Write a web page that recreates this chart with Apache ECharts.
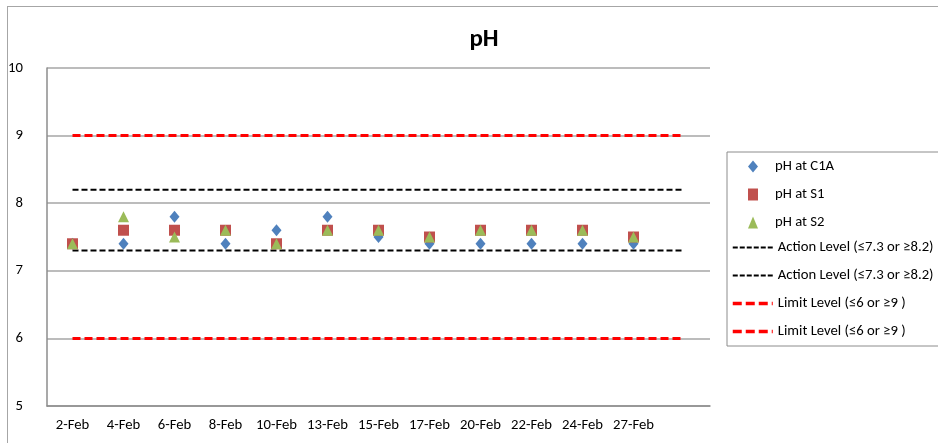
<!DOCTYPE html>
<html>
<head>
<meta charset="utf-8">
<script src="https://cdn.jsdelivr.net/npm/echarts@6/dist/echarts.min.js"></script>
<style>
  html, body { margin: 0; padding: 0; background: #fff; }
  #frame { position: absolute; left: 7px; top: 6px; width: 960px; height: 460px; border: 1px solid #a6a6a6; }
  #main { position: absolute; left: 0; top: 0; width: 938px; height: 443px; }
</style>
</head>
<body>
<div id="frame"></div>
<div id="main"></div>
<script>
const FONT = "Carlito, 'Liberation Sans Narrow', 'Noto Sans', sans-serif";

// last slot is an empty category (lines run across it)
const dates = ["2-Feb", "4-Feb", "6-Feb", "8-Feb", "10-Feb", "13-Feb", "15-Feb",
               "17-Feb", "20-Feb", "22-Feb", "24-Feb", "27-Feb", ""];

const phC1A = [7.4, 7.4, 7.8, 7.4, 7.6, 7.8, 7.5, 7.4, 7.4, 7.4, 7.4, 7.4];
const phS1  = [7.4, 7.6, 7.6, 7.6, 7.4, 7.6, 7.6, 7.5, 7.6, 7.6, 7.6, 7.5];
const phS2  = [7.4, 7.8, 7.5, 7.6, 7.4, 7.6, 7.6, 7.5, 7.6, 7.6, 7.6, 7.5];

const actionHigh = 8.2;
const actionLow = 7.3;
const limitHigh = 9;
const limitLow = 6;

const ACTION_NAME = "Action Level (\u22647.3 or \u22658.2)";
const LIMIT_NAME = "Limit Level (\u22646 or \u22659 )";
// second copy of each level gets its own legend row
const ACTION_NAME_2 = ACTION_NAME + "\u200b";
const LIMIT_NAME_2 = LIMIT_NAME + "\u200b";

const flat = (v) => dates.map(() => v);

const chart = echarts.init(document.getElementById("main"));

function levelLine(name, value, color, width, dash) {
  return {
    name: name,
    type: "line",
    data: flat(value),
    symbol: "none",
    silent: true,
    z: 3,
    itemStyle: { color: color },
    lineStyle: { color: color, width: width, type: dash }
  };
}

function scatter(name, values, symbol, size, color, z) {
  return {
    name: name,
    type: "scatter",
    data: values,
    symbol: symbol,
    symbolSize: size,
    z: z,
    itemStyle: { color: color, opacity: 1 }
  };
}

const legendText = { fontFamily: FONT, fontSize: 14.7, color: "#000", lineHeight: 14 };
// line rows show only the dashed stroke
const lineItem = (name, width, dash) => ({
  name: name,
  icon: "inherit",
  itemStyle: { opacity: 0 },
  lineStyle: { width: width, type: dash }
});

chart.setOption({
  animation: false,
  textStyle: { fontFamily: FONT },
  title: {
    text: "pH",
    left: 479,
    top: 22,
    textAlign: "center",
    textStyle: { fontFamily: FONT, fontSize: 25, fontWeight: "bold", color: "#000" }
  },
  grid: { left: 47, top: 68, width: 663, height: 338, containLabel: false },
  legend: [
    {
      // markers
      orient: "vertical",
      left: 748,
      top: 152,
      padding: [7, 0, 0, 0],
      itemWidth: 10,
      itemHeight: 12,
      itemGap: 13,
      textStyle: Object.assign({ padding: [0, 0, 0, 12] }, legendText),
      data: [
        { name: "pH at C1A", icon: "diamond" },
        { name: "pH at S1", icon: "rect" },
        { name: "pH at S2", icon: "triangle" }
      ]
    },
    {
      // level lines, its box also frames the marker rows
      orient: "vertical",
      left: 727,
      top: 152,
      padding: [88, 60, 7, 4],
      borderColor: "#8c8c8c",
      borderWidth: 1,
      itemWidth: 40,
      itemHeight: 14,
      itemGap: 13,
      textStyle: legendText,
      data: [
        lineItem(ACTION_NAME, 2, [5, 2]),
        lineItem(ACTION_NAME_2, 2, [5, 2]),
        lineItem(LIMIT_NAME, 3.5, [9, 4]),
        lineItem(LIMIT_NAME_2, 3.5, [9, 4])
      ]
    }
  ],
  xAxis: {
    type: "category",
    data: dates,
    boundaryGap: true,
    axisTick: { show: false },
    axisLine: { lineStyle: { color: "#8c8c8c", width: 1.5 } },
    axisLabel: { color: "#000", fontSize: 14.7, margin: 12, interval: 0 },
    splitLine: { show: false }
  },
  yAxis: {
    type: "value",
    min: 5,
    max: 10,
    interval: 1,
    axisLine: { show: true, lineStyle: { color: "#8c8c8c", width: 1.5 } },
    axisTick: { show: false },
    axisLabel: { color: "#000", fontSize: 14.7, margin: 24 },
    splitLine: { lineStyle: { color: "#a6a6a6", width: 1.5 } }
  },
  series: [
    levelLine(ACTION_NAME, actionHigh, "#000", 2, [6, 3]),
    levelLine(ACTION_NAME_2, actionLow, "#000", 2, [6, 3]),
    levelLine(LIMIT_NAME, limitHigh, "#ff0000", 3, [8, 4]),
    levelLine(LIMIT_NAME_2, limitLow, "#ff0000", 3, [8, 4]),
    scatter("pH at C1A", phC1A, "diamond", [10, 12], "#4f81bd", 5),
    scatter("pH at S1", phS1, "rect", [11, 11], "#c0504d", 6),
    scatter("pH at S2", phS2, "triangle", [11, 11], "#9bbb59", 7)
  ]
});
</script>
</body>
</html>
